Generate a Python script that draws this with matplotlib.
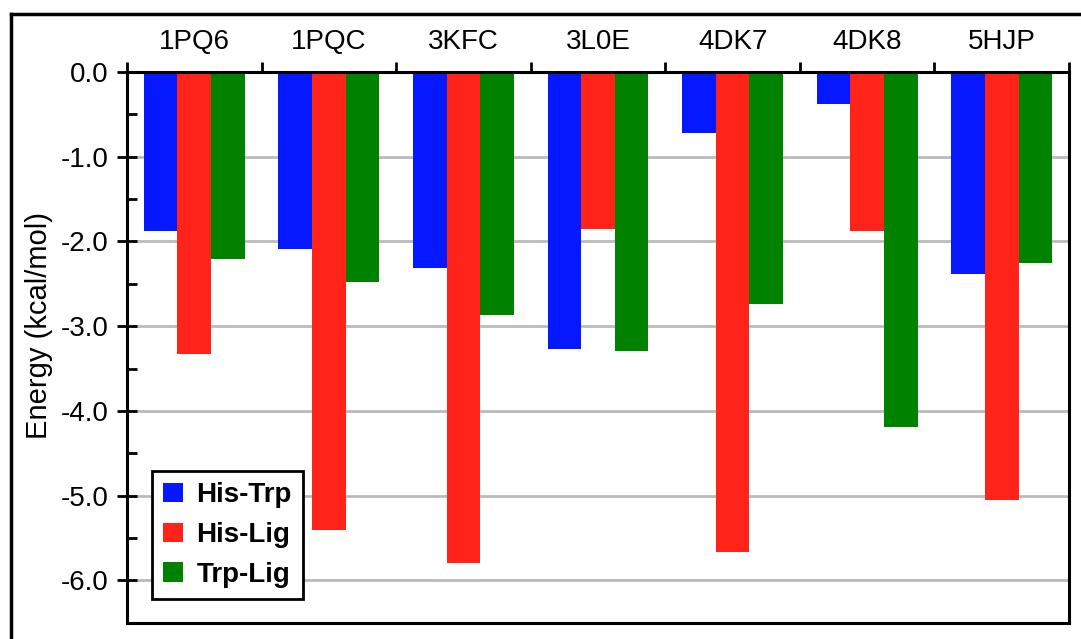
import numpy as np
import matplotlib
matplotlib.use("Agg")
import matplotlib.pyplot as plt
from matplotlib.lines import Line2D
from matplotlib.ticker import FixedLocator

plt.rcParams['font.family'] = ['Liberation Sans', 'DejaVu Sans']
plt.rcParams['axes.unicode_minus'] = False

structures = ["1PQ6", "1PQC", "3KFC", "3L0E", "4DK7", "4DK8", "5HJP"]
his_trp = [-1.88, -2.09, -2.31, -3.27, -0.72, -0.38, -2.38]
his_lig = [-3.33, -5.41, -5.80, -1.85, -5.67, -1.88, -5.05]
trp_lig = [-2.21, -2.48, -2.87, -3.29, -2.74, -4.19, -2.26]

series = [("His-Trp", his_trp, "#0518ff"),
          ("His-Lig", his_lig, "#ff231a"),
          ("Trp-Lig", trp_lig, "#008200")]

W, H = 1081, 639
fig = plt.figure(figsize=(W / 100, H / 100), dpi=100)
ax = fig.add_axes([127 / W, 1 - 622.7 / H, (1069 - 127) / W, (622.7 - 72) / H])

x = np.arange(len(structures))
width = 0.25
for k, (name, vals, col) in enumerate(series):
    ax.bar(x + (k - 1) * width, vals, width, color=col, label=name, zorder=2)

ax.set_xlim(-0.5, len(structures) - 0.5)
ax.set_ylim(-6.5, 0)

# categories on top, ticks at group boundaries
ax.xaxis.tick_top()
ax.set_xticks(x)
ax.set_xticklabels(structures, fontsize=20)
ax.xaxis.set_minor_locator(FixedLocator(np.arange(len(structures) + 1) - 0.5))
ax.tick_params(axis='x', which='major', length=0, pad=12)
ax.tick_params(axis='x', which='minor', direction='out', length=7, width=2)

yt = np.arange(0, -7, -1)
ax.set_yticks(yt)
ax.set_yticklabels(["%.1f" % v for v in yt], fontsize=20)
ax.yaxis.set_minor_locator(FixedLocator(np.arange(-0.5, -6.6, -1)))
ax.tick_params(axis='y', which='major', direction='inout', length=14, width=2, pad=6)
ax.tick_params(axis='y', which='minor', direction='in', length=7, width=2)

ax.yaxis.grid(True, color='#bbbbbb', lw=2)
ax.set_axisbelow(True)

for s in ax.spines.values():
    s.set_linewidth(2.2)

ax.set_ylabel("Energy (kcal/mol)", fontsize=21)
ax.yaxis.set_label_coords(-0.0786, 0.539)

leg = ax.legend(loc='lower left', bbox_to_anchor=(0.0265, 0.043), borderaxespad=0,
                fancybox=False, edgecolor='black', framealpha=1,
                prop={'weight': 'bold', 'size': 20},
                handlelength=0.7, handleheight=0.7, handletextpad=0.5,
                labelspacing=0.5, borderpad=0.4)
leg.get_frame().set_linewidth(2)

# outer frame, cut at the right and bottom edges
fig.add_artist(Line2D([11 / W, 11 / W], [1 - 14 / H, 0], color='black', lw=2.5))
fig.add_artist(Line2D([11 / W, 1], [1 - 14 / H, 1 - 14 / H], color='black', lw=2.5))

fig.savefig("out.png", dpi=100)
